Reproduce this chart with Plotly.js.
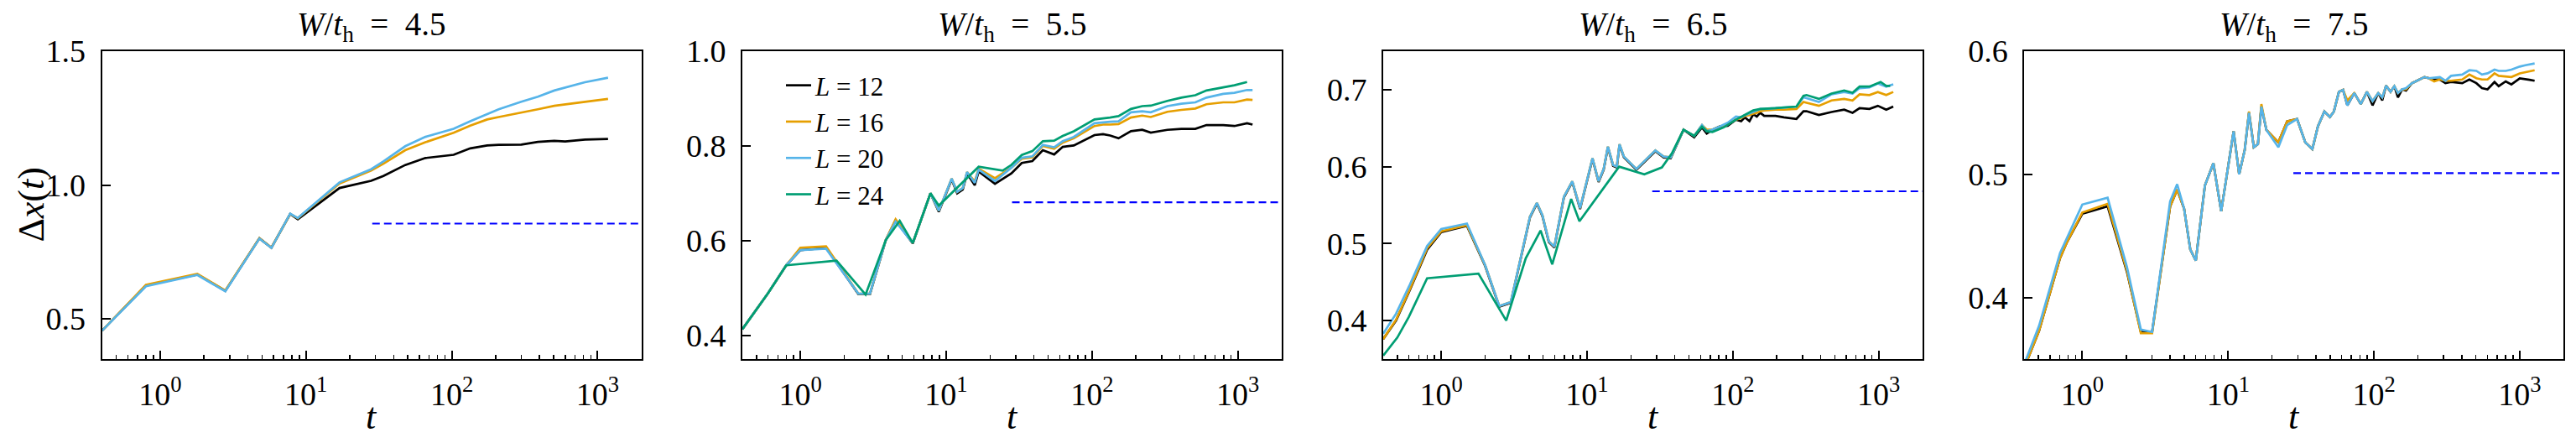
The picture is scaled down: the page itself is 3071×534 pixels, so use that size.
<!DOCTYPE html>
<html>
<head>
<meta charset="utf-8">
<script src="https://cdn.plot.ly/plotly-3.0.1.min.js"></script>
<style>
html,body{margin:0;padding:0;background:#ffffff;}
#chart{width:3071px;height:534px;}
</style>
</head>
<body>
<div id="chart"></div>
<script>
// ---------- labels ----------
const panelTitles = ['<i>W</i>/<i>t</i><sub>h</sub>&nbsp; = &nbsp;4.5', '<i>W</i>/<i>t</i><sub>h</sub>&nbsp; = &nbsp;5.5',
                     '<i>W</i>/<i>t</i><sub>h</sub>&nbsp; = &nbsp;6.5', '<i>W</i>/<i>t</i><sub>h</sub>&nbsp; = &nbsp;7.5'];
const xAxisLabel = '<i>t</i>';
const yAxisLabel = 'Δ<i>x</i>(<i>t</i>)';
const seriesNames = ['<i>L</i> = 12', '<i>L</i> = 16', '<i>L</i> = 20', '<i>L</i> = 24'];
const seriesColors = ['#000000', '#E69F00', '#56B4E9', '#009E73'];
const xTickVals = [1, 10, 100, 1000];
const xTickText = ['10<sup>0</sup>', '10<sup>1</sup>', '10<sup>2</sup>', '10<sup>3</sup>'];
const yRanges = [[0.35, 1.5], [0.35, 1.0], [0.35, 0.75], [0.35, 0.6]];
const yTickVals = [[0.5, 1.0, 1.5], [0.4, 0.6, 0.8, 1.0], [0.4, 0.5, 0.6, 0.7], [0.4, 0.5, 0.6]];
const dashStart = [28.5, 28.3, 28, 28];
const dashLevel = [0.856, 0.681, 0.568, 0.501];

// ---------- panel 1 : W/t_h = 4.5 ----------
const p1_t   = [0.4, 0.8, 1.8, 2.8, 4.8, 5.8, 7.8, 8.8, 17, 28, 34, 48, 66, 103, 134, 175, 210, 300, 390, 505, 600, 820, 1180];
const p1_L12 = [0.456, 0.625, 0.666, 0.605, 0.801, 0.766, 0.892, 0.872, 0.989, 1.016, 1.034, 1.075, 1.101, 1.113, 1.137, 1.148, 1.150, 1.151, 1.161, 1.165, 1.163, 1.170, 1.172];
const p1_L16 = [0.456, 0.627, 0.668, 0.606, 0.801, 0.766, 0.892, 0.876, 1.006, 1.054, 1.080, 1.130, 1.160, 1.195, 1.222, 1.245, 1.254, 1.270, 1.283, 1.296, 1.302, 1.311, 1.322];
const p1_L20 = [0.456, 0.622, 0.664, 0.603, 0.800, 0.765, 0.893, 0.877, 1.010, 1.059, 1.088, 1.145, 1.180, 1.210, 1.238, 1.264, 1.283, 1.311, 1.330, 1.353, 1.364, 1.384, 1.401];

// ---------- panel 2 : W/t_h = 5.5 ----------
const p2_t   = [0.4, 0.6, 0.8, 1.0, 1.5, 2.5, 3.0, 3.85, 4.5, 5.9, 7.8, 8.9, 10.9, 11.9, 13.0, 13.9, 15.7, 16.7, 21.6, 28,
                33, 39, 46, 55, 63, 75, 104, 119, 133, 152, 185, 221, 253, 329, 410, 511, 610, 794, 948, 1157, 1262];
const p2_L12 = [0.413, 0.489, 0.548, 0.580, 0.585, 0.487, 0.487, 0.601, 0.643, 0.594, 0.700, 0.661, 0.729, 0.700, 0.708, 0.742, 0.717, 0.746, 0.720, 0.742,
                0.764, 0.768, 0.791, 0.782, 0.798, 0.801, 0.823, 0.825, 0.822, 0.816, 0.831, 0.834, 0.828, 0.834, 0.836, 0.836, 0.844, 0.844, 0.842, 0.848, 0.845];
const p2_L16 = [0.413, 0.489, 0.548, 0.585, 0.588, 0.488, 0.488, 0.601, 0.645, 0.595, 0.700, 0.663, 0.731, 0.703, 0.711, 0.745, 0.725, 0.752, 0.732, 0.754,
                0.773, 0.776, 0.800, 0.794, 0.807, 0.816, 0.842, 0.845, 0.845, 0.846, 0.860, 0.864, 0.861, 0.872, 0.876, 0.879, 0.888, 0.892, 0.892, 0.898, 0.897];
const p2_L20 = [0.413, 0.489, 0.548, 0.580, 0.583, 0.488, 0.488, 0.601, 0.640, 0.595, 0.700, 0.663, 0.731, 0.703, 0.711, 0.745, 0.722, 0.750, 0.726, 0.754,
                0.775, 0.778, 0.802, 0.797, 0.810, 0.819, 0.848, 0.850, 0.851, 0.852, 0.871, 0.873, 0.871, 0.884, 0.889, 0.892, 0.902, 0.910, 0.912, 0.918, 0.918];
const p2_t24 = [0.4, 0.6, 0.8, 1.77, 2.8, 3.85, 4.8, 5.9, 7.8, 8.9, 16.7, 24.4, 28, 33, 39, 46, 55, 63, 75, 104,
                133, 152, 185, 221, 253, 329, 410, 511, 610, 794, 948, 1157];
const p2_L24 = [0.413, 0.489, 0.548, 0.558, 0.486, 0.601, 0.642, 0.595, 0.700, 0.674, 0.756, 0.748, 0.760, 0.781, 0.789, 0.810, 0.811, 0.821, 0.831, 0.856,
                0.860, 0.863, 0.878, 0.884, 0.885, 0.895, 0.902, 0.907, 0.917, 0.924, 0.928, 0.935];

// ---------- panel 3 : W/t_h = 6.5 ----------
const p3_t   = [0.4, 0.49, 0.61, 0.8, 1.0, 1.5, 2.0, 2.5, 3.0, 4.06, 4.53, 4.94, 5.47, 5.97, 6.94, 7.92, 8.96, 10.9, 12.0, 13.0,
                13.9, 15.1, 16.0, 16.7, 17.9, 21.8, 29.4, 33.5, 37.5, 45.9, 54.3, 61.4, 66.2, 72.4, 80.9, 92.3,
                105, 114, 121, 130, 138, 146, 154, 164, 196, 224, 273, 305, 320, 389, 475, 580, 662, 740, 864, 987, 1127, 1259];
const p3_L12 = [0.376, 0.400, 0.440, 0.492, 0.515, 0.523, 0.471, 0.418, 0.423, 0.534, 0.552, 0.536, 0.502, 0.495, 0.560, 0.580, 0.545, 0.610, 0.580, 0.596,
                0.625, 0.601, 0.599, 0.628, 0.612, 0.596, 0.620, 0.612, 0.611, 0.648, 0.638, 0.651, 0.643, 0.648, 0.652, 0.653,
                0.661, 0.659, 0.664, 0.659, 0.668, 0.665, 0.670, 0.666, 0.666, 0.664, 0.662, 0.672, 0.672, 0.667, 0.671, 0.674, 0.670, 0.676, 0.675, 0.679, 0.674, 0.678];
const p3_L16 = [0.376, 0.401, 0.441, 0.494, 0.516, 0.524, 0.472, 0.419, 0.424, 0.535, 0.553, 0.537, 0.503, 0.496, 0.561, 0.581, 0.546, 0.611, 0.581, 0.597,
                0.626, 0.602, 0.600, 0.629, 0.613, 0.597, 0.621, 0.613, 0.612, 0.648, 0.640, 0.654, 0.648, 0.648, 0.652, 0.655,
                0.661, 0.663, 0.666, 0.667, 0.669, 0.670, 0.672, 0.673, 0.674, 0.674, 0.675, 0.684, 0.683, 0.679, 0.686, 0.688, 0.686, 0.694, 0.693, 0.697, 0.693, 0.697];
const p3_L20 = [0.383, 0.409, 0.447, 0.497, 0.519, 0.526, 0.472, 0.419, 0.424, 0.535, 0.553, 0.537, 0.503, 0.496, 0.561, 0.581, 0.546, 0.611, 0.581, 0.597,
                0.626, 0.602, 0.600, 0.629, 0.613, 0.597, 0.621, 0.613, 0.612, 0.648, 0.640, 0.654, 0.646, 0.648, 0.652, 0.657,
                0.665, 0.664, 0.667, 0.669, 0.671, 0.673, 0.675, 0.675, 0.676, 0.677, 0.678, 0.690, 0.689, 0.684, 0.694, 0.697, 0.695, 0.702, 0.703, 0.708, 0.704, 0.707];
const p3_t24 = [0.4, 0.5, 0.6, 0.8, 1.8, 2.79, 3.8, 4.8, 5.77, 7.78, 8.87, 16.6, 24.7, 32.6, 38.1, 45.9, 54.3, 61.4, 66.2, 72.4,
                86.5, 105, 138, 154, 196, 273, 305, 320, 389, 475, 580, 662, 740, 864, 1031, 1127, 1200];
const p3_L24 = [0.3545, 0.378, 0.405, 0.455, 0.461, 0.400, 0.481, 0.517, 0.473, 0.558, 0.529, 0.600, 0.590, 0.599, 0.617, 0.648, 0.640, 0.652, 0.646, 0.645,
                0.651, 0.661, 0.673, 0.675, 0.676, 0.678, 0.692, 0.693, 0.688, 0.695, 0.699, 0.696, 0.704, 0.704, 0.710, 0.705, 0.705];

// ---------- panel 4 : W/t_h = 7.5 ----------
const p4_t   = [0.4, 0.505, 0.703, 0.785, 1.0, 1.49, 2.02, 2.52, 3.01, 4.0, 4.47, 4.99, 5.5, 6.0, 6.93, 7.92, 8.96, 10.9, 11.9, 13.0,
                13.9, 15.0, 16.0, 16.9, 18.3, 22.1, 25.4, 29.7, 33.8, 37.8, 41.3, 45.7, 49.9, 53.1, 57.5, 61.4, 65.7, 73.3, 81.2, 89.5,
                97.8, 107, 114, 121, 130, 138, 146, 156, 166, 182, 222, 237, 259, 283, 309, 338, 403, 451, 504, 550,
                601, 671, 717, 801, 876, 1000, 1092, 1166, 1264];
const p4_L12 = [0.343, 0.373, 0.432, 0.445, 0.468, 0.474, 0.421, 0.372, 0.372, 0.474, 0.4875, 0.472, 0.439, 0.430, 0.491, 0.509, 0.470, 0.535, 0.500, 0.520,
                0.550, 0.522, 0.5245, 0.555, 0.536, 0.526, 0.543, 0.545, 0.526, 0.5205, 0.539, 0.551, 0.5466, 0.551, 0.567, 0.5686, 0.556, 0.566, 0.557, 0.567,
                0.556, 0.566, 0.560, 0.572, 0.567, 0.5716, 0.5625, 0.569, 0.568, 0.574, 0.579, 0.578, 0.577, 0.577, 0.574, 0.575, 0.574, 0.577, 0.574, 0.570,
                0.569, 0.575, 0.5716, 0.5755, 0.573, 0.578, 0.5775, 0.5768, 0.576];
const p4_L16 = [0.343, 0.373, 0.432, 0.445, 0.469, 0.476, 0.422, 0.371, 0.371, 0.474, 0.4875, 0.472, 0.439, 0.430, 0.491, 0.509, 0.470, 0.535, 0.500, 0.520,
                0.551, 0.522, 0.5245, 0.557, 0.536, 0.526, 0.543, 0.545, 0.526, 0.5205, 0.539, 0.551, 0.5466, 0.551, 0.567, 0.5686, 0.560, 0.566, 0.557, 0.567,
                0.5595, 0.566, 0.5625, 0.572, 0.567, 0.5716, 0.566, 0.569, 0.569, 0.574, 0.579, 0.578, 0.5755, 0.577, 0.576, 0.576, 0.577, 0.581, 0.578, 0.577,
                0.577, 0.582, 0.580, 0.5795, 0.579, 0.582, 0.583, 0.584, 0.5845];
const p4_L20 = [0.346, 0.377, 0.436, 0.448, 0.4755, 0.481, 0.425, 0.374, 0.372, 0.478, 0.492, 0.472, 0.439, 0.430, 0.491, 0.509, 0.470, 0.535, 0.500, 0.520,
                0.550, 0.522, 0.5245, 0.555, 0.536, 0.522, 0.540, 0.545, 0.526, 0.5205, 0.539, 0.551, 0.5466, 0.551, 0.567, 0.5686, 0.556, 0.566, 0.557, 0.567,
                0.5595, 0.566, 0.5625, 0.572, 0.567, 0.5716, 0.566, 0.569, 0.570, 0.574, 0.579, 0.578, 0.5784, 0.579, 0.576, 0.580, 0.581, 0.5845, 0.584, 0.581,
                0.582, 0.585, 0.584, 0.584, 0.585, 0.5875, 0.5886, 0.589, 0.590];

// ---------- assemble ----------
const panels = [
  {t: [p1_t, p1_t, p1_t], y: [p1_L12, p1_L16, p1_L20]},
  {t: [p2_t, p2_t, p2_t, p2_t24], y: [p2_L12, p2_L16, p2_L20, p2_L24]},
  {t: [p3_t, p3_t, p3_t, p3_t24], y: [p3_L12, p3_L16, p3_L20, p3_L24]},
  {t: [p4_t, p4_t, p4_t], y: [p4_L12, p4_L16, p4_L20]}
];

const FONT = 'Liberation Serif, DejaVu Serif, serif';
const W = 3071, H = 534;
const plotLeft = [121.7, 885, 1649, 2413.3];
const plotWidth = 643;
const plotTop = 61, plotBottom = 428;
const xMax = 2000;

const minorVals = [];
[0.1, 1, 10, 100, 1000].forEach(d => { for (let k = 2; k <= 9; k++) minorVals.push(d * k); });

const data = [];
const layout = {
  width: W, height: H,
  margin: {l: 0, r: 0, t: 0, b: 0},
  paper_bgcolor: '#ffffff', plot_bgcolor: '#ffffff',
  font: {family: FONT, color: '#000000', size: 38},
  showlegend: true,
  legend: {
    x: 932 / W, y: (H - 75) / H, xanchor: 'left', yanchor: 'top',
    bgcolor: 'rgba(0,0,0,0)', borderwidth: 0,
    font: {family: FONT, size: 31, color: '#000000'},
    traceorder: 'normal'
  },
  annotations: [],
  hovermode: false
};

panels.forEach((p, i) => {
  const k = i + 1;
  const xa = 'x' + (k === 1 ? '' : k), ya = 'y' + (k === 1 ? '' : k);
  p.t.forEach((tt, s) => {
    data.push({
      type: 'scatter', mode: 'lines', x: tt, y: p.y[s], xaxis: xa, yaxis: ya,
      name: seriesNames[s],
      showlegend: i === 1,
      line: {color: seriesColors[s], width: 2.7}
    });
  });
  data.push({
    type: 'scatter', mode: 'lines', x: [dashStart[i], xMax], y: [dashLevel[i], dashLevel[i]],
    xaxis: xa, yaxis: ya, showlegend: false,
    line: {color: '#0000FF', width: 2.2, dash: '9px,5px'}
  });

  const d0 = plotLeft[i] / W, d1 = (plotLeft[i] + plotWidth) / W;
  layout['xaxis' + (k === 1 ? '' : k)] = {
    type: 'log', range: [Math.log10(0.4), Math.log10(xMax)], domain: [d0, d1],
    anchor: ya, tickmode: 'array', tickvals: xTickVals, ticktext: xTickText,
    ticks: 'inside', ticklen: 10, tickwidth: 2, tickcolor: '#000',
    minor: {tickmode: 'array', tickvals: minorVals, ticks: 'inside', ticklen: 5, tickwidth: 1.5, tickcolor: '#000', showgrid: false},
    showline: true, mirror: true, linewidth: 2, linecolor: '#000',
    showgrid: false, zeroline: false, ticklabelstandoff: 7,
    tickfont: {family: FONT, size: 38, color: '#000'}
  };
  layout['yaxis' + (k === 1 ? '' : k)] = {
    range: yRanges[i], domain: [(H - plotBottom) / H, (H - plotTop) / H],
    anchor: xa, tickmode: 'array', tickvals: yTickVals[i], tickformat: '.1f',
    ticks: 'inside', ticklen: 10, tickwidth: 2, tickcolor: '#000',
    showline: true, mirror: true, linewidth: 2, linecolor: '#000',
    showgrid: false, zeroline: false, ticklabelstandoff: 10,
    tickfont: {family: FONT, size: 38, color: '#000'}
  };
  // panel title
  layout.annotations.push({
    text: panelTitles[i], xref: 'paper', yref: 'paper',
    x: (plotLeft[i] + plotWidth / 2) / W, y: (H - 31) / H,
    xanchor: 'center', yanchor: 'middle', showarrow: false,
    font: {family: FONT, size: 39, color: '#000'}
  });
  // x-axis label
  layout.annotations.push({
    text: xAxisLabel, xref: 'paper', yref: 'paper',
    x: (plotLeft[i] + plotWidth / 2) / W, y: (H - 497) / H,
    xanchor: 'center', yanchor: 'middle', showarrow: false,
    font: {family: FONT, size: 44, color: '#000'}
  });
});
// y-axis label (first panel only)
layout.annotations.push({
  text: yAxisLabel, xref: 'paper', yref: 'paper',
  x: 37 / W, y: (H - (plotTop + plotBottom) / 2) / H,
  xanchor: 'center', yanchor: 'middle', showarrow: false, textangle: -90,
  font: {family: FONT, size: 44, color: '#000'}
});

Plotly.newPlot('chart', data, layout, {staticPlot: true, displayModeBar: false});
</script>
</body>
</html>
